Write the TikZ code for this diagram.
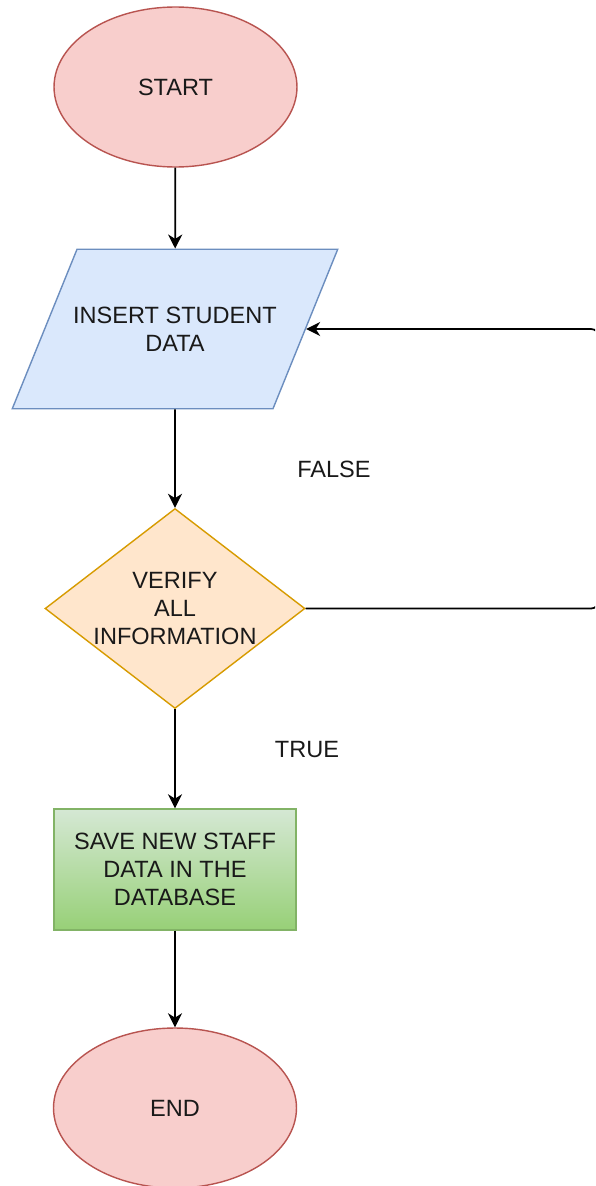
\documentclass[tikz,border=0pt]{standalone}
\usepackage{fontspec}
\setmainfont{Liberation Sans}
\usetikzlibrary{shapes.geometric,arrows.meta}
\definecolor{txt}{RGB}{25,25,25}
\definecolor{redfill}{HTML}{F8CECC}
\definecolor{redline}{HTML}{B85450}
\definecolor{bluefill}{HTML}{DAE8FC}
\definecolor{blueline}{HTML}{6C8EBF}
\definecolor{orangefill}{HTML}{FFE6CC}
\definecolor{orangeline}{HTML}{D79B00}
\definecolor{greentop}{HTML}{D5E8D4}
\definecolor{greenbot}{HTML}{97D077}
\definecolor{greenline}{HTML}{82B366}
\begin{document}
\begin{tikzpicture}[x=0.02cm, y=-0.02cm,
  font=\fontsize{13.4}{16}\selectfont,
  every node/.style={align=center, text=txt},
  arr/.style={line width=1pt, -{Stealth[length=8pt,width=8pt,inset=2.5pt]}},
  terminal/.style={ellipse, draw=redline, fill=redfill, line width=0.8pt, minimum width=4.86cm, minimum height=3.2cm}]
\clip (0,0) rectangle (595,1186);
\node[terminal] (start) at (175.5,87) {START};
\node[trapezium, trapezium left angle=67.9, trapezium right angle=112.1,
  draw=blueline, fill=bluefill, line width=0.8pt, inner xsep=0pt, inner ysep=32.7pt]
  (insert) at (175,329) {\makebox[3.92cm]{INSERT STUDENT}\\DATA};
\node[diamond, draw=orangeline, fill=orangefill, line width=0.8pt, inner sep=0pt, aspect=1.3,
  minimum width=5.2cm, minimum height=4cm] (verify) at (175,608.5) {VERIFY\\ALL\\INFORMATION};
\node[rectangle, draw=greenline, top color=greentop, bottom color=greenbot, line width=0.8pt,
  minimum width=4.84cm, minimum height=2.42cm] (save) at (175,869.5) {SAVE NEW STAFF\\DATA IN THE\\DATABASE};
\node[terminal] (end) at (175,1108) {END};
\node (false) at (334,469) {FALSE};
\node (true) at (307,750) {TRUE};
\coordinate (loop) at (599,469);
\draw[arr] (start) -- (insert);
\draw[arr] (insert) -- (verify);
\draw[arr] (verify) -- (save);
\draw[arr] (save) -- (end);
\draw[arr, rounded corners=0.16cm] (verify.east) -| (loop) |- (insert.east);
\end{tikzpicture}
\end{document}
